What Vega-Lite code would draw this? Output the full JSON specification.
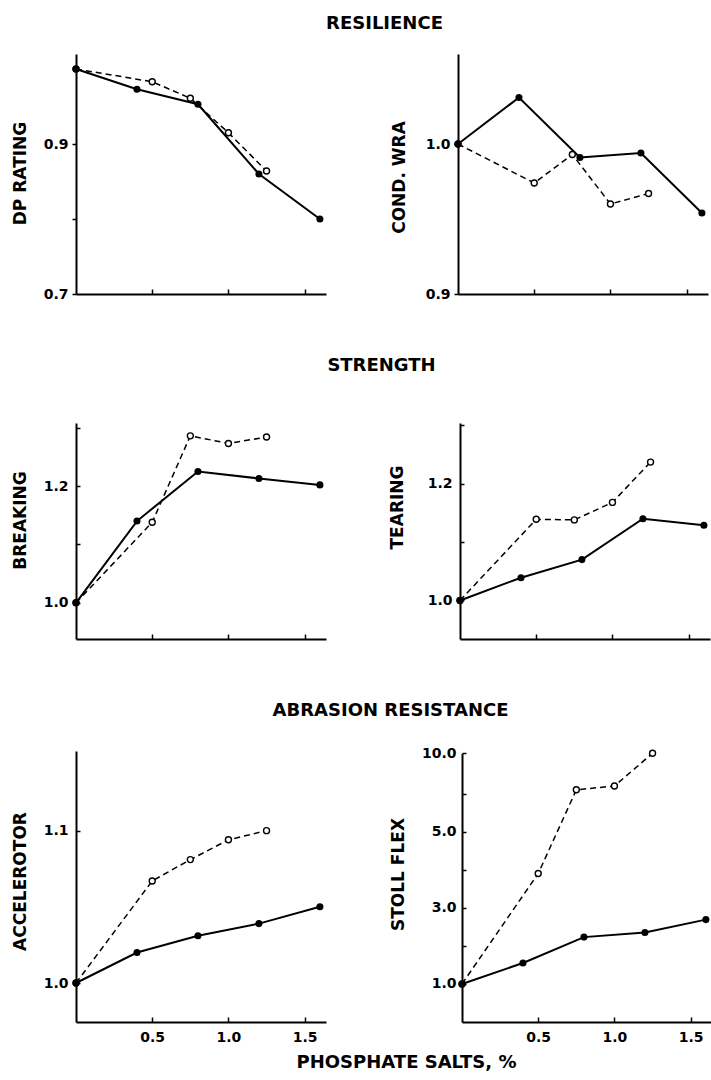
{
  "$schema": "https://vega.github.io/schema/vega-lite/v6.json",
  "background": "white",
  "padding": {"left": 10, "top": 15, "right": 0, "bottom": 0},
  "datasets": {
    "dp": [
      {"s": "a", "x": 0, "y": 1.0}, {"s": "a", "x": 0.4, "y": 0.973}, {"s": "a", "x": 0.8, "y": 0.953}, {"s": "a", "x": 1.2, "y": 0.86}, {"s": "a", "x": 1.6, "y": 0.8},
      {"s": "b", "x": 0, "y": 1.0}, {"s": "b", "x": 0.5, "y": 0.983}, {"s": "b", "x": 0.75, "y": 0.961}, {"s": "b", "x": 1.0, "y": 0.915}, {"s": "b", "x": 1.25, "y": 0.864}
    ],
    "wra": [
      {"s": "a", "x": 0, "y": 1.0}, {"s": "a", "x": 0.4, "y": 1.031}, {"s": "a", "x": 0.8, "y": 0.991}, {"s": "a", "x": 1.2, "y": 0.994}, {"s": "a", "x": 1.6, "y": 0.954},
      {"s": "b", "x": 0, "y": 1.0}, {"s": "b", "x": 0.5, "y": 0.974}, {"s": "b", "x": 0.75, "y": 0.993}, {"s": "b", "x": 1.0, "y": 0.96}, {"s": "b", "x": 1.25, "y": 0.967}
    ],
    "brk": [
      {"s": "a", "x": 0, "y": 1.0}, {"s": "a", "x": 0.4, "y": 1.14}, {"s": "a", "x": 0.8, "y": 1.225}, {"s": "a", "x": 1.2, "y": 1.213}, {"s": "a", "x": 1.6, "y": 1.202},
      {"s": "b", "x": 0, "y": 1.0}, {"s": "b", "x": 0.5, "y": 1.138}, {"s": "b", "x": 0.75, "y": 1.286}, {"s": "b", "x": 1.0, "y": 1.273}, {"s": "b", "x": 1.25, "y": 1.284}
    ],
    "tear": [
      {"s": "a", "x": 0, "y": 1.0}, {"s": "a", "x": 0.4, "y": 1.039}, {"s": "a", "x": 0.8, "y": 1.07}, {"s": "a", "x": 1.2, "y": 1.14}, {"s": "a", "x": 1.6, "y": 1.129},
      {"s": "b", "x": 0, "y": 1.0}, {"s": "b", "x": 0.5, "y": 1.139}, {"s": "b", "x": 0.75, "y": 1.138}, {"s": "b", "x": 1.0, "y": 1.168}, {"s": "b", "x": 1.25, "y": 1.237}
    ],
    "acc": [
      {"s": "a", "x": 0, "y": 1.0}, {"s": "a", "x": 0.4, "y": 1.02}, {"s": "a", "x": 0.8, "y": 1.031}, {"s": "a", "x": 1.2, "y": 1.039}, {"s": "a", "x": 1.6, "y": 1.05},
      {"s": "b", "x": 0, "y": 1.0}, {"s": "b", "x": 0.5, "y": 1.067}, {"s": "b", "x": 0.75, "y": 1.081}, {"s": "b", "x": 1.0, "y": 1.094}, {"s": "b", "x": 1.25, "y": 1.1}
    ],
    "stoll": [
      {"s": "a", "x": 0, "y": 1.0}, {"s": "a", "x": 0.4, "y": 1.55}, {"s": "a", "x": 0.8, "y": 2.23}, {"s": "a", "x": 1.2, "y": 2.35}, {"s": "a", "x": 1.6, "y": 2.69},
      {"s": "b", "x": 0, "y": 1.0}, {"s": "b", "x": 0.5, "y": 3.9}, {"s": "b", "x": 0.75, "y": 6.1}, {"s": "b", "x": 1.0, "y": 6.2}, {"s": "b", "x": 1.25, "y": 10.0}
    ]
  },
  "spacing": 56,
  "vconcat": [
    {
      "title": {"text": "RESILIENCE", "anchor": "middle", "dx": 25, "offset": 21},
      "bounds": "flush",
      "spacing": 132,
      "hconcat": [
        {
          "width": 250, "height": 240,
          "data": {"name": "dp"},
          "encoding": {
            "x": {"field": "x", "type": "quantitative", "scale": {"domain": [0, 1.64], "nice": false, "zero": false},
                  "axis": {"values": [0.5, 1, 1.5], "labels": false, "tickSize": -5, "title": null}},
            "y": {"field": "y", "type": "quantitative", "scale": {"domain": [0.7, 1.02], "nice": false, "zero": false},
                  "axis": {"values": [0.7, 0.8, 0.9, 1.0], "format": ".1f", "labelExpr": "datum.value==0.8||datum.value==1?'':datum.label", "title": "DP RATING", "titleX": -56, "titleY": 119}}
          },
          "layer": [
            {"transform": [{"filter": "datum.s=='b'"}], "mark": {"type": "line", "color": "black", "strokeWidth": 1.5, "strokeDash": [6, 4]}, "encoding": {}},
            {"transform": [{"filter": "datum.s=='a'"}], "mark": {"type": "line", "color": "black", "strokeWidth": 2}, "encoding": {}},
            {"transform": [{"filter": "datum.s=='b'"}], "mark": {"type": "point", "shape": "circle", "filled": false, "fill": "white", "stroke": "black", "strokeWidth": 1.4, "size": 36, "opacity": 1}, "encoding": {}},
            {"transform": [{"filter": "datum.s=='a'"}], "mark": {"type": "circle", "color": "black", "size": 50, "opacity": 1}, "encoding": {}}
          ]
        },
        {
          "width": 250, "height": 240,
          "data": {"name": "wra"},
          "encoding": {
            "x": {"field": "x", "type": "quantitative", "scale": {"domain": [0, 1.64], "nice": false, "zero": false},
                  "axis": {"values": [0.5, 1, 1.5], "labels": false, "tickSize": -5, "title": null}},
            "y": {"field": "y", "type": "quantitative", "scale": {"domain": [0.9, 1.06], "nice": false, "zero": false},
                  "axis": {"values": [0.9, 1.0], "format": ".1f", "title": "COND. WRA", "titleX": -59, "titleY": 123}}
          },
          "layer": [
            {"transform": [{"filter": "datum.s=='b'"}], "mark": {"type": "line", "color": "black", "strokeWidth": 1.5, "strokeDash": [6, 4]}, "encoding": {}},
            {"transform": [{"filter": "datum.s=='a'"}], "mark": {"type": "line", "color": "black", "strokeWidth": 2}, "encoding": {}},
            {"transform": [{"filter": "datum.s=='b'"}], "mark": {"type": "point", "shape": "circle", "filled": false, "fill": "white", "stroke": "black", "strokeWidth": 1.4, "size": 36, "opacity": 1}, "encoding": {}},
            {"transform": [{"filter": "datum.s=='a'"}], "mark": {"type": "circle", "color": "black", "size": 50, "opacity": 1}, "encoding": {}}
          ]
        }
      ]
    },
    {
      "spacing": 62,
      "vconcat": [
        {
          "title": {"text": "STRENGTH", "anchor": "middle", "dx": 21, "offset": 43},
          "bounds": "flush",
          "spacing": 134,
          "hconcat": [
            {
              "width": 250, "height": 216,
              "data": {"name": "brk"},
              "encoding": {
                "x": {"field": "x", "type": "quantitative", "scale": {"domain": [0, 1.64], "nice": false, "zero": false},
                      "axis": {"values": [0.5, 1, 1.5], "labels": false, "tickSize": -5, "title": null}},
                "y": {"field": "y", "type": "quantitative", "scale": {"domain": [0.938, 1.308], "nice": false, "zero": false},
                      "axis": {"values": [1.0, 1.1, 1.2, 1.3], "format": ".1f", "tickSize": -4, "labelPadding": 12, "labelExpr": "datum.value==1.1||datum.value==1.3?'':datum.label", "title": "BREAKING", "titleX": -56, "titleY": 97}}
              },
              "layer": [
                {"transform": [{"filter": "datum.s=='b'"}], "mark": {"type": "line", "color": "black", "strokeWidth": 1.5, "strokeDash": [6, 4]}, "encoding": {}},
                {"transform": [{"filter": "datum.s=='a'"}], "mark": {"type": "line", "color": "black", "strokeWidth": 2}, "encoding": {}},
                {"transform": [{"filter": "datum.s=='b'"}], "mark": {"type": "point", "shape": "circle", "filled": false, "fill": "white", "stroke": "black", "strokeWidth": 1.4, "size": 36, "opacity": 1}, "encoding": {}},
                {"transform": [{"filter": "datum.s=='a'"}], "mark": {"type": "circle", "color": "black", "size": 50, "opacity": 1}, "encoding": {}}
              ]
            },
            {
              "width": 250, "height": 216,
              "data": {"name": "tear"},
              "encoding": {
                "x": {"field": "x", "type": "quantitative", "scale": {"domain": [0, 1.64], "nice": false, "zero": false},
                      "axis": {"values": [0.5, 1, 1.5], "labels": false, "tickSize": -5, "title": null}},
                "y": {"field": "y", "type": "quantitative", "scale": {"domain": [0.934, 1.304], "nice": false, "zero": false},
                      "axis": {"values": [1.0, 1.1, 1.2, 1.3], "format": ".1f", "tickSize": -4, "labelPadding": 12, "labelExpr": "datum.value==1.1||datum.value==1.3?'':datum.label", "title": "TEARING", "titleX": -62.5, "titleY": 84}}
              },
              "layer": [
                {"transform": [{"filter": "datum.s=='b'"}], "mark": {"type": "line", "color": "black", "strokeWidth": 1.5, "strokeDash": [6, 4]}, "encoding": {}},
                {"transform": [{"filter": "datum.s=='a'"}], "mark": {"type": "line", "color": "black", "strokeWidth": 2}, "encoding": {}},
                {"transform": [{"filter": "datum.s=='b'"}], "mark": {"type": "point", "shape": "circle", "filled": false, "fill": "white", "stroke": "black", "strokeWidth": 1.4, "size": 36, "opacity": 1}, "encoding": {}},
                {"transform": [{"filter": "datum.s=='a'"}], "mark": {"type": "circle", "color": "black", "size": 50, "opacity": 1}, "encoding": {}}
              ]
            }
          ]
        },
        {
          "title": {"text": "ABRASION RESISTANCE", "anchor": "middle", "dx": 29, "offset": 26},
          "bounds": "flush",
          "spacing": 136,
          "hconcat": [
            {
              "width": 250, "height": 271,
              "data": {"name": "acc"},
              "encoding": {
                "x": {"field": "x", "type": "quantitative", "scale": {"domain": [0, 1.64], "nice": false, "zero": false},
                      "axis": {"values": [0.5, 1, 1.5], "format": ".1f", "tickSize": -5, "labelPadding": 13,
                               "title": "PHOSPHATE SALTS, %", "titleX": 330, "titleY": 40, "titleAngle": 0, "titleBaseline": "middle", "titleAlign": "center", "titleFontSize": 18}},
                "y": {"field": "y", "type": "quantitative", "scale": {"domain": [0.9744, 1.1523], "nice": false, "zero": false},
                      "axis": {"values": [1.0, 1.1], "format": ".1f", "tickSize": -4, "labelPadding": 12, "title": "ACCELEROTOR", "titleX": -56, "titleY": 130}}
              },
              "layer": [
                {"transform": [{"filter": "datum.s=='b'"}], "mark": {"type": "line", "color": "black", "strokeWidth": 1.5, "strokeDash": [6, 4]}, "encoding": {}},
                {"transform": [{"filter": "datum.s=='a'"}], "mark": {"type": "line", "color": "black", "strokeWidth": 2}, "encoding": {}},
                {"transform": [{"filter": "datum.s=='b'"}], "mark": {"type": "point", "shape": "circle", "filled": false, "fill": "white", "stroke": "black", "strokeWidth": 1.4, "size": 36, "opacity": 1}, "encoding": {}},
                {"transform": [{"filter": "datum.s=='a'"}], "mark": {"type": "circle", "color": "black", "size": 50, "opacity": 1}, "encoding": {}}
              ]
            },
            {
              "width": 250, "height": 271,
              "data": {"name": "stoll"},
              "encoding": {
                "x": {"field": "x", "type": "quantitative", "scale": {"domain": [0, 1.64], "nice": false, "zero": false},
                      "axis": {"values": [0.5, 1, 1.5], "format": ".1f", "tickSize": -5, "labelPadding": 13, "title": null}},
                "y": {"field": "y", "type": "quantitative", "scale": {"domain": [0, 6.5, 10], "range": [271, 23.6, 2.3], "nice": false, "zero": false},
                      "axis": {"values": [1, 2, 3, 4, 5, 6, 10], "format": ".1f", "tickSize": -4, "labelPadding": 10, "labelExpr": "datum.value==2||datum.value==4||datum.value==6?'':datum.label", "title": "STOLL FLEX", "titleX": -64, "titleY": 123}}
              },
              "layer": [
                {"transform": [{"filter": "datum.s=='b'"}], "mark": {"type": "line", "color": "black", "strokeWidth": 1.5, "strokeDash": [6, 4]}, "encoding": {}},
                {"transform": [{"filter": "datum.s=='a'"}], "mark": {"type": "line", "color": "black", "strokeWidth": 2}, "encoding": {}},
                {"transform": [{"filter": "datum.s=='b'"}], "mark": {"type": "point", "shape": "circle", "filled": false, "fill": "white", "stroke": "black", "strokeWidth": 1.4, "size": 36, "opacity": 1}, "encoding": {}},
                {"transform": [{"filter": "datum.s=='a'"}], "mark": {"type": "circle", "color": "black", "size": 50, "opacity": 1}, "encoding": {}}
              ]
            }
          ]
        }
      ]
    }
  ],
  "config": {
    "view": {"stroke": null},
    "font": "DejaVu Sans",
    "axis": {
      "domainColor": "black", "domainWidth": 2, "tickColor": "black", "tickWidth": 1.5, "grid": false,
      "labelColor": "black", "labelFont": "DejaVu Sans", "labelFontSize": 14, "labelFontWeight": "bold",
      "labelFlush": false, "labelOverlap": false, "labelBound": false,
      "titleColor": "black", "titleFont": "DejaVu Sans", "titleFontSize": 17, "titleFontWeight": "bold"
    },
    "axisY": {"tickSize": 4, "labelPadding": 4, "titleAngle": -90, "titleBaseline": "middle", "titleAlign": "center"},
    "title": {"color": "black", "font": "DejaVu Sans", "fontSize": 18, "fontWeight": "bold"}
  }
}
